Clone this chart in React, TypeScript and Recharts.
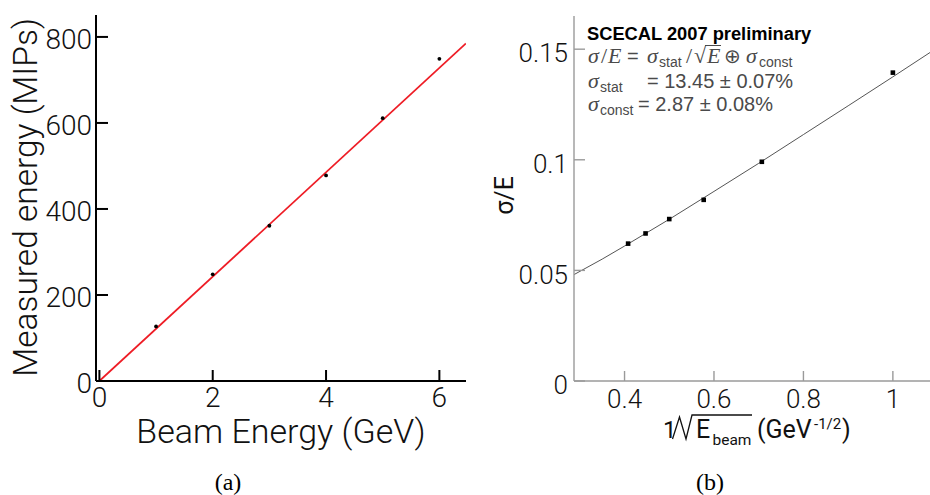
import React from 'react';
import { ComposedChart, Scatter, Line, XAxis, YAxis } from 'recharts';

// (a) linearity
const beamEnergy = [1, 2, 3, 4, 5, 6];
const measuredMips = [127, 248, 361, 478, 611, 749];
const linFitX = [0, 6.47];
const linFitY = [0, 785];
const energyTicks = [0, 2, 4, 6];
const mipTicks = [0, 200, 400, 600, 800];

// (b) resolution vs 1/sqrt(E)
const invSqrtE = [0.408, 0.447, 0.5, 0.577, 0.707, 1.0];
const resolution = [0.0621, 0.0667, 0.0732, 0.0819, 0.0991, 0.1394];
const resFitX = [0.287, 0.35, 0.4, 0.5, 0.6, 0.7, 0.8, 0.9, 1.0, 1.083];
const resFitY = [0.0481, 0.0551, 0.061, 0.0731, 0.0857, 0.0984, 0.1114, 0.1244, 0.1375, 0.1485];
const invTicks = [0.4, 0.6, 0.8, 1];
const resTicks = [0, 0.05, 0.1, 0.15];

const linPoints = beamEnergy.map((x, i) => ({ x, y: measuredMips[i] }));
const linFit = linFitX.map((x, i) => ({ x, y: linFitY[i] }));
const resPoints = invSqrtE.map((x, i) => ({ x, y: resolution[i] }));
const resFit = resFitX.map((x, i) => ({ x, y: resFitY[i] }));

const SANS = "Roboto, 'Liberation Sans', sans-serif";
const TEX_SANS = "'Liberation Sans', Arial, sans-serif";
const TEX_MATH = "'Liberation Serif', serif";
const GREY = '#9a9a9a';

const RoundDot = (p: any) => <circle cx={p.cx} cy={p.cy} r={1.9} fill="#000" />;
const SquareDot = (p: any) => <rect x={p.cx - 2.3} y={p.cy - 2.3} width={4.6} height={4.6} fill="#000" />;

const tickFont = { fontSize: 28, fill: '#111', fontFamily: SANS, fontWeight: 300 };
const tickFontB = { fontSize: 26, fill: '#111', fontFamily: SANS, fontWeight: 300 };

function LinearityChart() {
  return (
    <ComposedChart width={480} height={495} margin={{ top: 15, right: 14, bottom: 74, left: 6 }}>
      <XAxis xAxisId="b" dataKey="x" type="number" domain={[-0.06, 6.47]} allowDataOverflow
        ticks={energyTicks} interval={0} height={40} tickSize={-11} tickMargin={17}
        stroke="#000" strokeWidth={2} tick={tickFont} />
      <XAxis xAxisId="t" orientation="top" type="number" domain={[-0.06, 6.47]} height={0}
        tick={false} tickLine={false} stroke="#000" strokeWidth={2} />
      <YAxis yAxisId="l" type="number" domain={[0, 851]} allowDataOverflow ticks={mipTicks}
        interval={0} width={90} tickSize={-12} tickMargin={16}
        stroke="#000" strokeWidth={2} tick={{ ...tickFont, dy: 2 }} />
      <YAxis yAxisId="r" orientation="right" type="number" domain={[0, 851]} width={0}
        tick={false} tickLine={false} stroke="#000" strokeWidth={2} />
      <Line xAxisId="b" yAxisId="l" data={linFit} dataKey="y" stroke="#ee1c25" strokeWidth={1.8}
        dot={false} isAnimationActive={false} />
      <Scatter xAxisId="b" yAxisId="l" data={linPoints} dataKey="y" shape={RoundDot}
        isAnimationActive={false} />
    </ComposedChart>
  );
}

function ResolutionChart() {
  return (
    <ComposedChart width={450} height={495} margin={{ top: 16, right: 0, bottom: 74, left: 6 }}>
      <XAxis xAxisId="b" dataKey="x" type="number" domain={[0.287, 1.083]} allowDataOverflow
        ticks={invTicks} interval={0} height={40} tickSize={-10} tickMargin={19}
        stroke={GREY} strokeWidth={1.4} tick={tickFontB} />
      <XAxis xAxisId="t" orientation="top" type="number" domain={[0.287, 1.083]} height={0}
        tick={false} tickLine={false} stroke={GREY} strokeWidth={1.4} />
      <YAxis yAxisId="l" type="number" domain={[0, 0.165]} allowDataOverflow ticks={resTicks}
        interval={0} width={88} tickSize={-11} tickMargin={17}
        stroke={GREY} strokeWidth={1.4} tick={{ ...tickFontB, dy: 4 }} />
      <Line xAxisId="b" yAxisId="l" data={resFit} dataKey="y" stroke="#555" strokeWidth={1}
        dot={false} isAnimationActive={false} />
      <Scatter xAxisId="b" yAxisId="l" data={resPoints} dataKey="y" shape={SquareDot}
        isAnimationActive={false} />
    </ComposedChart>
  );
}

// axis titles, fit summary and captions
function Annotations() {
  const sub = { fontFamily: TEX_SANS, fontSize: 14 };
  const num = { fontFamily: TEX_SANS, fontSize: 20 };
  const mi = { fontFamily: TEX_MATH, fontStyle: 'italic' as const, fontSize: 22 };
  const rm = { fontFamily: TEX_MATH, fontSize: 22 };
  return (
    <svg width={930} height={495} style={{ position: 'absolute', left: 0, top: 0, pointerEvents: 'none' }}>
      <text x={37} y={197.5} transform="rotate(-90 37 197.5)" textAnchor="middle"
        fontFamily={SANS} fontWeight={300} fontSize={33.5} fill="#111">Measured energy (MIPs)</text>
      <text x={281} y={443} textAnchor="middle" fontFamily={SANS} fontWeight={300} fontSize={34}
        fill="#111">Beam Energy (GeV)</text>

      <text x={513} y={195.5} transform="rotate(-90 513 195.5)" textAnchor="middle"
        fontFamily={SANS} fontSize={25} fill="#111">σ/E</text>

      <g fontFamily={SANS} fill="#111">
        <text x={663} y={438} fontSize={24}>1</text>
        <path d="M672.5 439 L679.5 417 L686 439 L692 415 H752" stroke="#111" strokeWidth={1.3} fill="none" />
        <text x={696} y={438} fontSize={25}>E</text>
        <text x={712.5} y={445} fontSize={15.5}>beam</text>
        <text x={757} y={438} fontSize={25}>(GeV</text>
        <text x={814} y={428.5} fontSize={15}>-1/2</text>
        <text x={842} y={438} fontSize={25}>)</text>
      </g>

      <text x={587} y={39.5} fontFamily={TEX_SANS} fontWeight="bold" fontSize={18.3} fill="#000">
        SCECAL 2007 preliminary
      </text>
      <g fill="#4a4a4a">
        <text y={63}>
          <tspan x={588} {...mi}>σ</tspan>
          <tspan x={601} {...rm}>/</tspan>
          <tspan x={608} {...mi}>E</tspan>
          <tspan x={627} {...num}>=</tspan>
          <tspan x={647} {...mi}>σ</tspan>
          <tspan x={659} dy={3.5} {...sub}>stat</tspan>
          <tspan x={686} dy={-3.5} {...rm}>/</tspan>
          <tspan x={694} {...rm}>√</tspan>
          <tspan x={707} {...mi}>E</tspan>
          <tspan x={724} {...num}>⊕</tspan>
          <tspan x={746} {...mi}>σ</tspan>
          <tspan x={759} dy={3.5} {...sub}>const</tspan>
        </text>
        <line x1={705} y1={45.5} x2={721} y2={45.5} stroke="#4a4a4a" strokeWidth={1} />
        <text y={88}>
          <tspan x={588} {...mi}>σ</tspan>
          <tspan x={600} dy={4} {...sub}>stat</tspan>
          <tspan x={647} dy={-4} {...num}>= 13.45 ± 0.07%</tspan>
        </text>
        <text y={111}>
          <tspan x={588} {...mi}>σ</tspan>
          <tspan x={600} dy={4} {...sub}>const</tspan>
          <tspan x={638} dy={-4} {...num}>= 2.87 ± 0.08%</tspan>
        </text>
      </g>

      <text x={228} y={490} textAnchor="middle" fontFamily={TEX_MATH} fontSize={24} fill="#000">(a)</text>
      <text x={710} y={490} textAnchor="middle" fontFamily={TEX_MATH} fontSize={24} fill="#000">(b)</text>
    </svg>
  );
}

export default function App() {
  return (
    <div style={{ position: 'absolute', left: 0, top: 0, width: 930, height: 495, background: '#fff' }}>
      <div style={{ position: 'absolute', left: 0, top: 0 }}>
        <LinearityChart />
      </div>
      <div style={{ position: 'absolute', left: 480, top: 0 }}>
        <ResolutionChart />
      </div>
      <Annotations />
    </div>
  );
}
